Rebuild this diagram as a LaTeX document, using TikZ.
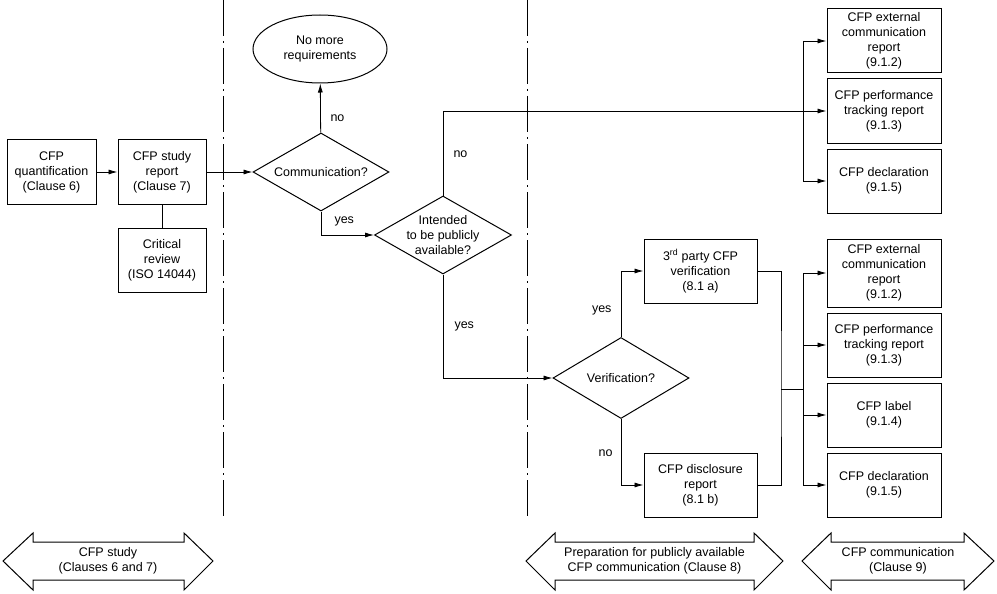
\documentclass[tikz,border=0pt]{standalone}
\usepackage{fontspec}
\setmainfont{Liberation Sans}
\usetikzlibrary{shapes.geometric,arrows.meta}

\tikzset{
  box/.style={draw, line width=1pt, rectangle, align=center, inner sep=1pt,
    minimum width=113pt, minimum height=64pt},
  decide/.style={draw, line width=1pt, diamond, align=center, inner sep=-17pt,
    minimum width=136pt, minimum height=78pt},
  flow/.style={line width=0.8pt, -{Latex[length=9pt,width=5pt]}},
  link/.style={line width=0.8pt},
  lane/.style={line width=0.9pt, dash pattern=on 36pt off 5pt on 2pt off 5pt},
  phase/.style={draw, line width=1pt, line join=miter},
}

\begin{document}
\begin{tikzpicture}[x=1pt, y=-1pt, font=\fontsize{12.5}{15}\selectfont]
    \useasboundingbox (0,0) rectangle (997,594);

    % lane borders
    \draw[lane] (223,0) -- (223,518);
    \draw[lane] (527,0) -- (527,518);

    % study
    \node[box, minimum width=89pt, minimum height=65pt] (quant) at (51.5,172) {CFP\\quantification\\(Clause 6)};
    \node[box, minimum width=88pt, minimum height=65pt] (study) at (162,172) {CFP study\\report\\(Clause 7)};
    \node[box, minimum width=88pt] (review) at (162,260) {Critical\\review\\(ISO 14044)};

    % decisions
    \node[draw, ellipse, line width=1pt, minimum width=134pt, minimum height=68pt, align=center] (nomore) at (320,49) {No more\\requirements};
    \node[decide] (comm) at (321,172) {Communication?};
    \node[decide, minimum width=137pt] (intended) at (443,235) {Intended\\to be publicly\\available?};
    \node[decide, minimum height=81pt] (verif) at (621,378) {Verification?};

    % preparation
    \node[box] (third) at (700.5,271) {3\textsuperscript{rd} party CFP\\verification\\(8.1 a)};
    \node[box] (disclose) at (700.5,485) {CFP disclosure\\report\\(8.1 b)};

    % communication, not public
    \node[box, minimum width=114pt] (extA) at (884,41) {CFP external\\communication\\report\\(9.1.2)};
    \node[box, minimum width=114pt] (perfA) at (884,111) {CFP performance\\tracking report\\(9.1.3)};
    \node[box, minimum width=114pt] (declA) at (884,181) {CFP declaration\\(9.1.5)};

    % communication, public
    \node[box, minimum width=114pt, minimum height=68pt] (extB) at (884,273) {CFP external\\communication\\report\\(9.1.2)};
    \node[box, minimum width=114pt] (perfB) at (884,345) {CFP performance\\tracking report\\(9.1.3)};
    \node[box, minimum width=114pt] (labelB) at (884,415) {CFP label\\(9.1.4)};
    \node[box, minimum width=114pt] (declB) at (884,485) {CFP declaration\\(9.1.5)};

    \coordinate (fanA) at (803,111);
    \coordinate (joinB) at (781,389);
    \coordinate (fanB) at (803,389);

    \draw[flow] (quant) -- (study);
    \draw[link] (study) -- (review);
    \draw[flow] (study) -- (comm);
    \draw[flow] (comm) -- (nomore);
    \draw[flow] (comm.south) |- (intended.west);
    \draw[flow] (intended.north) |- (perfA.west);
    \draw[flow] (intended.south) |- (verif.west);
    \draw[flow] (verif.north) |- (third.west);
    \draw[flow] (verif.south) |- (disclose.west);

    \node[anchor=west] (noA) at (327,118) {no};
    \node[anchor=west] (yesA) at (331,221) {yes};
    \node[anchor=west] (noB) at (450,154) {no};
    \node[anchor=west] (yesB) at (451,326) {yes};
    \node[anchor=east] (yesC) at (615,310) {yes};
    \node[anchor=east] (noC) at (616,453) {no};

    \draw[link] (fanA |- extA.west) -- (fanA |- declA.west);
    \foreach \b in {extA,declA}
        \draw[flow] (fanA |- \b.west) -- (\b.west);

    \draw[link] (third.east) -| (joinB) |- (disclose.east);
    \draw[link] (joinB) -- (fanB);
    \draw[link] (fanB |- extB.west) -- (fanB |- declB.west);
    \foreach \b in {extB,perfB,labelB,declB}
        \draw[flow] (fanB |- \b.west) -- (\b.west);

    % phases
    \draw[phase] (3,561) -- (33,533) -- (33,542) -- (184,542) -- (184,533) -- (213,561)
        -- (184,590) -- (184,580) -- (33,580) -- (33,590) -- cycle;
    \draw[phase] (526,561) -- (555,533) -- (555,542) -- (754,542) -- (754,533) -- (783,561)
        -- (754,590) -- (754,580) -- (555,580) -- (555,590) -- cycle;
    \draw[phase] (802,561) -- (831,533) -- (831,542) -- (964,542) -- (964,533) -- (994,561)
        -- (964,590) -- (964,580) -- (831,580) -- (831,590) -- cycle;
    \node[align=center] (studyph) at (108,561) {CFP study\\(Clauses 6 and 7)};
    \node[align=center] (prepph) at (654.5,561) {Preparation for publicly available\\CFP communication (Clause 8)};
    \node[align=center] (commph) at (898,561) {CFP communication\\(Clause 9)};
\end{tikzpicture}
\end{document}
